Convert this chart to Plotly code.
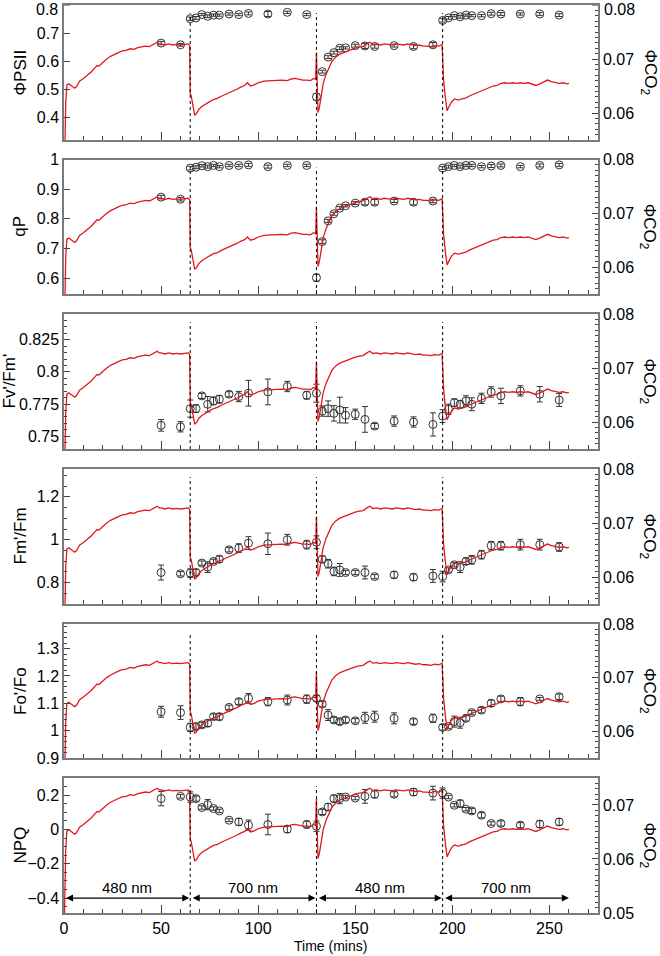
import plotly.graph_objects as go

# ---------------- data ----------------
# red trace: quantum yield of CO2 fixation (right axes)
T_CO2 = [0.0, 0.4, 0.9, 1.5, 2.5, 4, 5.5, 6.5, 8, 10, 12, 14, 16, 17, 18, 20, 22, 24, 26, 28, 30,
         32, 34, 36, 38, 40, 42, 44, 46, 48, 49, 50, 52, 54, 56, 58, 60, 62, 64, 64.7,
         65.0, 65.5, 66.3, 67.3, 68.2, 69.5, 71, 73, 75, 77, 79, 81, 83, 85, 87, 89, 91, 93,
         94.5, 96, 98, 100, 103, 106, 109, 112, 115, 117, 119, 121, 123, 125, 127, 128.5, 129.6,
         130.0, 130.3, 130.8, 131.5, 132.5, 133.5, 135, 136.8, 138, 140, 142, 144, 146, 148, 150,
         152, 154, 156, 157.5, 159, 161, 163, 165, 167, 169, 171, 173, 175, 177, 179, 181, 183,
         185, 187, 189, 191, 193, 194.7, 195.1, 195.5, 196.5, 197.3, 198.3, 199.5, 201, 203,
         205, 207, 209, 211, 213, 215, 217, 219, 221, 223, 225, 227, 229, 231, 233, 235, 237,
         239, 241, 243, 245, 247, 249, 251, 253, 255, 257, 259, 260]
PHI_CO2 = [0.045, 0.055, 0.062, 0.0652, 0.0654, 0.0650, 0.0646, 0.0649, 0.0659, 0.0664, 0.0670,
           0.0676, 0.0684, 0.0688, 0.0687, 0.0694, 0.0700, 0.0705, 0.0709, 0.0712, 0.0715,
           0.0716, 0.0719, 0.0718, 0.0721, 0.0722, 0.0724, 0.0723, 0.0727, 0.0731, 0.0728,
           0.0728, 0.0726, 0.0728, 0.0726, 0.0727, 0.0726, 0.0727, 0.0728, 0.0725,
           0.0636, 0.0632, 0.0612, 0.0596, 0.0599, 0.0607, 0.0612, 0.0617, 0.0621, 0.0625,
           0.0627, 0.0631, 0.0634, 0.0638, 0.0641, 0.0644, 0.0648, 0.0651, 0.0656, 0.0650,
           0.0652, 0.0656, 0.0659, 0.0660, 0.0660, 0.0661, 0.0660, 0.0663, 0.0664, 0.0662,
           0.0661, 0.0661, 0.0660, 0.0664, 0.0662,
           0.0712, 0.0640, 0.0601, 0.0610, 0.0635, 0.0655, 0.0672, 0.0687, 0.0696, 0.0704,
           0.0709, 0.0712, 0.0715, 0.0717, 0.0720, 0.0722, 0.0723, 0.0728, 0.0731, 0.0727,
           0.0728, 0.0726, 0.0728, 0.0727, 0.0726, 0.0728, 0.0727, 0.0726, 0.0728, 0.0727,
           0.0725, 0.0726, 0.0724, 0.0724, 0.0723, 0.0725, 0.0724, 0.0727, 0.0668, 0.0660,
           0.0625, 0.0604, 0.0612, 0.0620, 0.0626, 0.0624, 0.0626, 0.0628, 0.0632, 0.0635,
           0.0638, 0.0642, 0.0645, 0.0648, 0.0650, 0.0651, 0.0655, 0.0656, 0.0655, 0.0656,
           0.0655, 0.0656, 0.0655, 0.0656, 0.0654, 0.0651, 0.0654, 0.0658, 0.0661, 0.0658,
           0.0656, 0.0655, 0.0656, 0.0654, 0.0655]

# fluorescence sampling times (mins)
T_FL = [50, 60, 65, 68, 71, 74, 77, 80, 85, 90, 95, 105, 115, 125, 130, 133, 136, 139, 142, 145,
        150, 155, 160, 170, 180, 190, 195, 198, 201, 204, 207, 210, 215, 220, 225, 235, 245, 255]

PSII = [0.664, 0.658, 0.751, 0.754, 0.766, 0.760, 0.764, 0.764, 0.768, 0.766, 0.770, 0.768, 0.774,
        0.766, 0.472, 0.562, 0.614, 0.630, 0.646, 0.647, 0.655, 0.654, 0.652, 0.655, 0.652, 0.658,
        0.745, 0.754, 0.762, 0.758, 0.764, 0.762, 0.762, 0.769, 0.768, 0.768, 0.768, 0.764]
PSII_ERR = [0.006, 0.005, 0.006, 0.005, 0.004, 0.005, 0.004, 0.004, 0.004, 0.004, 0.005, 0.009,
            0.004, 0.004, 0.012, 0.005, 0.005, 0.005, 0.005, 0.004, 0.005, 0.009, 0.006, 0.005,
            0.008, 0.008, 0.006, 0.005, 0.004, 0.005, 0.004, 0.004, 0.004, 0.005, 0.005, 0.004,
            0.005, 0.005]

QP = [0.873, 0.866, 0.971, 0.974, 0.979, 0.976, 0.980, 0.976, 0.980, 0.980, 0.982, 0.976, 0.980,
      0.980, 0.601, 0.723, 0.793, 0.817, 0.836, 0.844, 0.853, 0.856, 0.856, 0.860, 0.856, 0.860,
      0.971, 0.976, 0.980, 0.976, 0.980, 0.980, 0.976, 0.978, 0.980, 0.976, 0.980, 0.982]
QP_ERR = [0.006, 0.006, 0.006, 0.005, 0.004, 0.005, 0.004, 0.004, 0.004, 0.004, 0.005, 0.005,
          0.004, 0.004, 0.012, 0.006, 0.005, 0.005, 0.005, 0.004, 0.005, 0.009, 0.009, 0.005,
          0.009, 0.006, 0.005, 0.005, 0.004, 0.005, 0.004, 0.004, 0.004, 0.005, 0.005, 0.004,
          0.005, 0.005]

FVFM = [0.7584, 0.7573, 0.7714, 0.7714, 0.7813, 0.7748, 0.7774, 0.7787, 0.7826, 0.7808, 0.7834,
        0.7844, 0.7886, 0.7818, 0.7834, 0.7695, 0.7714, 0.7677, 0.7703, 0.7662, 0.7670, 0.7630,
        0.7578, 0.7617, 0.7610, 0.7591, 0.7656, 0.7709, 0.7760, 0.7748, 0.7774, 0.7748, 0.7794,
        0.7844, 0.7813, 0.7852, 0.7826, 0.7781]
FVFM_ERR = [0.0045, 0.004, 0.0067, 0.003, 0.002, 0.006, 0.003, 0.003, 0.002, 0.004, 0.010, 0.010,
            0.004, 0.003, 0.007, 0.004, 0.006, 0.006, 0.010, 0.006, 0.004, 0.010, 0.002, 0.004,
            0.004, 0.009, 0.005, 0.004, 0.003, 0.003, 0.004, 0.005, 0.004, 0.004, 0.006, 0.004,
            0.006, 0.005]

FMFM = [0.847, 0.841, 0.844, 0.847, 0.891, 0.872, 0.899, 0.909, 0.953, 0.961, 0.984, 0.981, 1.000,
        0.977, 0.988, 0.909, 0.888, 0.852, 0.859, 0.847, 0.847, 0.847, 0.828, 0.836, 0.825, 0.831,
        0.828, 0.859, 0.883, 0.872, 0.899, 0.906, 0.930, 0.972, 0.972, 0.977, 0.977, 0.966]
FMFM_ERR = [0.035, 0.010, 0.020, 0.015, 0.010, 0.025, 0.010, 0.015, 0.010, 0.020, 0.030, 0.050,
            0.025, 0.020, 0.030, 0.015, 0.020, 0.020, 0.030, 0.010, 0.010, 0.030, 0.010, 0.015,
            0.015, 0.030, 0.025, 0.010, 0.010, 0.025, 0.015, 0.020, 0.020, 0.020, 0.020, 0.025,
            0.025, 0.020]

FOFO = [1.069, 1.066, 1.012, 1.015, 1.021, 1.027, 1.051, 1.051, 1.085, 1.106, 1.118, 1.106, 1.112,
        1.115, 1.118, 1.097, 1.057, 1.039, 1.033, 1.039, 1.036, 1.047, 1.051, 1.045, 1.033, 1.045,
        1.012, 1.015, 1.033, 1.029, 1.045, 1.066, 1.075, 1.100, 1.116, 1.106, 1.116, 1.124]
FOFO_ERR = [0.020, 0.025, 0.015, 0.010, 0.010, 0.012, 0.010, 0.012, 0.008, 0.010, 0.018, 0.015,
            0.018, 0.015, 0.010, 0.010, 0.020, 0.010, 0.010, 0.010, 0.008, 0.020, 0.020, 0.020,
            0.010, 0.015, 0.010, 0.008, 0.020, 0.020, 0.010, 0.008, 0.010, 0.012, 0.010, 0.015,
            0.005, 0.010]

NPQ = [0.180, 0.193, 0.189, 0.180, 0.128, 0.145, 0.122, 0.108, 0.054, 0.044, 0.025, 0.029, 0.002,
       0.029, 0.019, 0.102, 0.131, 0.180, 0.180, 0.189, 0.183, 0.193, 0.205, 0.205, 0.218, 0.212,
       0.212, 0.189, 0.141, 0.151, 0.118, 0.108, 0.083, 0.035, 0.035, 0.025, 0.031, 0.044]
NPQ_ERR = [0.042, 0.010, 0.030, 0.015, 0.010, 0.030, 0.010, 0.010, 0.008, 0.020, 0.030, 0.060,
           0.020, 0.020, 0.030, 0.015, 0.020, 0.020, 0.030, 0.010, 0.010, 0.040, 0.020, 0.015,
           0.020, 0.040, 0.030, 0.010, 0.010, 0.020, 0.010, 0.015, 0.015, 0.010, 0.015, 0.015,
           0.020, 0.020]

LEFT_TITLES = ["ΦPSII", "qP", "Fv'/Fm'", "Fm'/Fm", "Fo'/Fo", "NPQ"]
SERIES = [PSII, QP, FVFM, FMFM, FOFO, NPQ]
ERRORS = [PSII_ERR, QP_ERR, FVFM_ERR, FMFM_ERR, FOFO_ERR, NPQ_ERR]

SWITCH_TIMES = [65, 130, 195]
LIGHT_SEGMENTS = [(0.3, 64.5, "480 nm"), (65.5, 129.5, "700 nm"),
                  (130.5, 194.5, "480 nm"), (195.5, 260, "700 nm")]
X_TICKS = [0, 50, 100, 150, 200, 250]
TOP_LEFT_TICKS = [0.4, 0.5, 0.6, 0.7]      # 0.8 label drawn just inside the page edge
TOP_RIGHT_TICKS = [0.06, 0.07]             # 0.08 label drawn just inside the page edge

# ---------------- styling / layout ----------------
W, H = 660, 956
ML, MR, MT, MB = 64, 62, 5, 43
PW, PH = W - ML - MR, H - MT - MB
FONT = "Liberation Sans, Arial, sans-serif"
LINE_C = "#7a7a7a"
TICK_C = "#444444"
RED = "#e3181c"
PT_C = "#333333"

panel_tops = [5, 159.5, 314, 469, 624, 778]
panel_bots = [140, 294, 449, 604, 758, 913]

left_axes = [
    dict(range=[0.318, 0.8001], tick0=0.4, dtick=0.1, minor=None),
    dict(range=[0.546, 1.0001], tick0=0.6, dtick=0.1, minor=None),
    dict(range=[0.740, 0.845], tick0=0.75, dtick=0.025, minor=0.005),
    dict(range=[0.70, 1.33], tick0=0.8, dtick=0.2, minor=0.05),
    dict(range=[0.8999, 1.39], tick0=0.9, dtick=0.1, minor=0.02),
    dict(range=[-0.487, 0.30], tick0=-0.4, dtick=0.2, minor=0.05),
]
right_ranges = [[0.055, 0.08001]] * 5 + [[0.04999, 0.075]]


def xname(i):
    return "x" if i == 0 else f"x{i + 1}"


def ylname(i):
    return "y" if i == 0 else f"y{2 * i + 1}"


def yrname(i):
    return f"y{2 * i + 2}"


def axkey(n):
    return n[0] + "axis" + n[1:]


fig = go.Figure()
layout = {}
shapes = []
annotations = []

for i in range(6):
    d_top = (H - MB - panel_tops[i]) / PH
    d_bot = (H - MB - panel_bots[i]) / PH
    # red CO2 trace on the right axis
    fig.add_trace(go.Scatter(x=T_CO2, y=PHI_CO2, mode="lines",
                             line=dict(color=RED, width=1.3),
                             xaxis=xname(i), yaxis=yrname(i), showlegend=False,
                             hoverinfo="skip"))
    # fluorescence points on the left axis
    fig.add_trace(go.Scatter(x=T_FL, y=SERIES[i], mode="markers",
                             marker=dict(symbol="circle-open", size=8,
                                         color=PT_C, line=dict(width=1, color=PT_C)),
                             error_y=dict(type="data", array=ERRORS[i], color=PT_C,
                                          thickness=1, width=3),
                             xaxis=xname(i), yaxis=ylname(i), showlegend=False))

    la = left_axes[i]
    xa = dict(domain=[0, 1], anchor=ylname(i), range=[0, 275], automargin=False,
              showline=True, linecolor=LINE_C, linewidth=1.5, mirror=True,
              ticks="inside", tickvals=X_TICKS, ticklen=8, tickcolor=TICK_C, tickwidth=1,
              minor=dict(ticks="inside", dtick=10, tick0=0, ticklen=4, tickcolor=TICK_C),
              showgrid=False, zeroline=False, ticklabeloverflow="allow",
              showticklabels=(i == 5),
              tickfont=dict(family=FONT, size=16, color="black"))
    if i > 0:
        xa["matches"] = "x"
    layout[axkey(xname(i))] = xa

    ya = dict(domain=[d_bot, d_top], anchor=xname(i), range=la["range"], automargin=False,
              ticklabeloverflow="allow",
              showline=True, linecolor=LINE_C, linewidth=1.5,
              ticks="inside", ticklen=6, tickcolor=TICK_C,
              showgrid=False, zeroline=False,
              tickfont=dict(family=FONT, size=16, color="black"))
    if i == 0:
        ya["tickvals"] = TOP_LEFT_TICKS
    else:
        ya["tick0"] = la["tick0"]
        ya["dtick"] = la["dtick"]
    if la["minor"]:
        ya["minor"] = dict(ticks="inside", dtick=la["minor"], ticklen=3, tickcolor=TICK_C)
    layout[axkey(ylname(i))] = ya

    yb = dict(overlaying=ylname(i), side="right", anchor=xname(i), automargin=False,
              range=right_ranges[i], ticklabeloverflow="allow",
              showline=True, linecolor=LINE_C, linewidth=1.5,
              ticks="inside", ticklen=6, tickcolor=TICK_C,
              minor=dict(ticks="inside", dtick=0.001, tick0=0.05, ticklen=3, tickcolor=TICK_C),
              showgrid=False, zeroline=False,
              tickfont=dict(family=FONT, size=16, color="black"))
    if i == 0:
        yb["tickvals"] = TOP_RIGHT_TICKS
    else:
        yb["dtick"] = 0.01
        yb["tick0"] = 0.05
    layout[axkey(yrname(i))] = yb

    # dotted light switch markers
    for ts in SWITCH_TIMES:
        shapes.append(dict(type="line", xref=xname(i), yref=f"{ylname(i)} domain",
                           x0=ts, x1=ts, y0=0, y1=0.94,
                           line=dict(color="black", width=1, dash="dot")))

    ymid = (d_top + d_bot) / 2
    lx = 9 if i == 2 else 20
    annotations.append(dict(text=LEFT_TITLES[i], xref="paper", yref="paper",
                            x=(lx - ML) / PW, y=ymid, xanchor="center", yanchor="middle",
                            textangle=-90, showarrow=False,
                            font=dict(family=FONT, size=17, color="black")))
    annotations.append(dict(text="ΦCO<sub>2</sub>", xref="paper", yref="paper",
                            x=(648 - ML) / PW, y=ymid, xanchor="center", yanchor="middle",
                            textangle=90, showarrow=False,
                            font=dict(family=FONT, size=17, color="black")))

# top-edge tick labels of the first panel (kept inside the page)
shapes.append(dict(type="line", xref="x domain", yref="y", x0=0, x1=6 / PW, y0=0.8, y1=0.8,
                   line=dict(color=TICK_C, width=1)))
shapes.append(dict(type="line", xref="x domain", yref="y2", x0=1 - 6 / PW, x1=1,
                   y0=0.08, y1=0.08, line=dict(color=TICK_C, width=1)))
annotations.append(dict(text="0.8", xref="paper", yref="paper", x=(60 - ML) / PW,
                        y=(H - MB - 9.5) / PH, xanchor="right", yanchor="middle",
                        showarrow=False, font=dict(family=FONT, size=16, color="black")))
annotations.append(dict(text="0.08", xref="paper", yref="paper", x=(602 - ML) / PW,
                        y=(H - MB - 9.5) / PH, xanchor="left", yanchor="middle",
                        showarrow=False, font=dict(family=FONT, size=16, color="black")))

# light-period arrows in bottom panel
for (a, b, lab) in LIGHT_SEGMENTS:
    annotations.append(dict(x=b, y=-0.4, ax=a, ay=-0.4, xref="x6", yref="y11",
                            axref="x6", ayref="y11", text="", showarrow=True,
                            arrowhead=2, startarrowhead=2, arrowside="end+start",
                            arrowsize=1, startarrowsize=1, arrowwidth=1.4,
                            arrowcolor="black", standoff=0, startstandoff=0))
    annotations.append(dict(x=(a + b) / 2, y=-0.4, xref="x6", yref="y11", text=lab,
                            showarrow=False, yanchor="bottom", yshift=0,
                            font=dict(family=FONT, size=15, color="black")))

annotations.append(dict(text="Time (mins)", xref="paper", yref="paper",
                        x=(330 - ML) / PW, y=(H - MB - 946) / PH, xanchor="center",
                        yanchor="middle", showarrow=False,
                        font=dict(family=FONT, size=14, color="black")))

fig.update_layout(width=W, height=H, margin=dict(l=ML, r=MR, t=MT, b=MB, autoexpand=False),
                  plot_bgcolor="white", paper_bgcolor="white",
                  shapes=shapes, annotations=annotations, **layout)

fig.write_html("out.html", config={"displayModeBar": False},
               post_script="document.body.style.margin='0';document.body.style.overflow='hidden';")
